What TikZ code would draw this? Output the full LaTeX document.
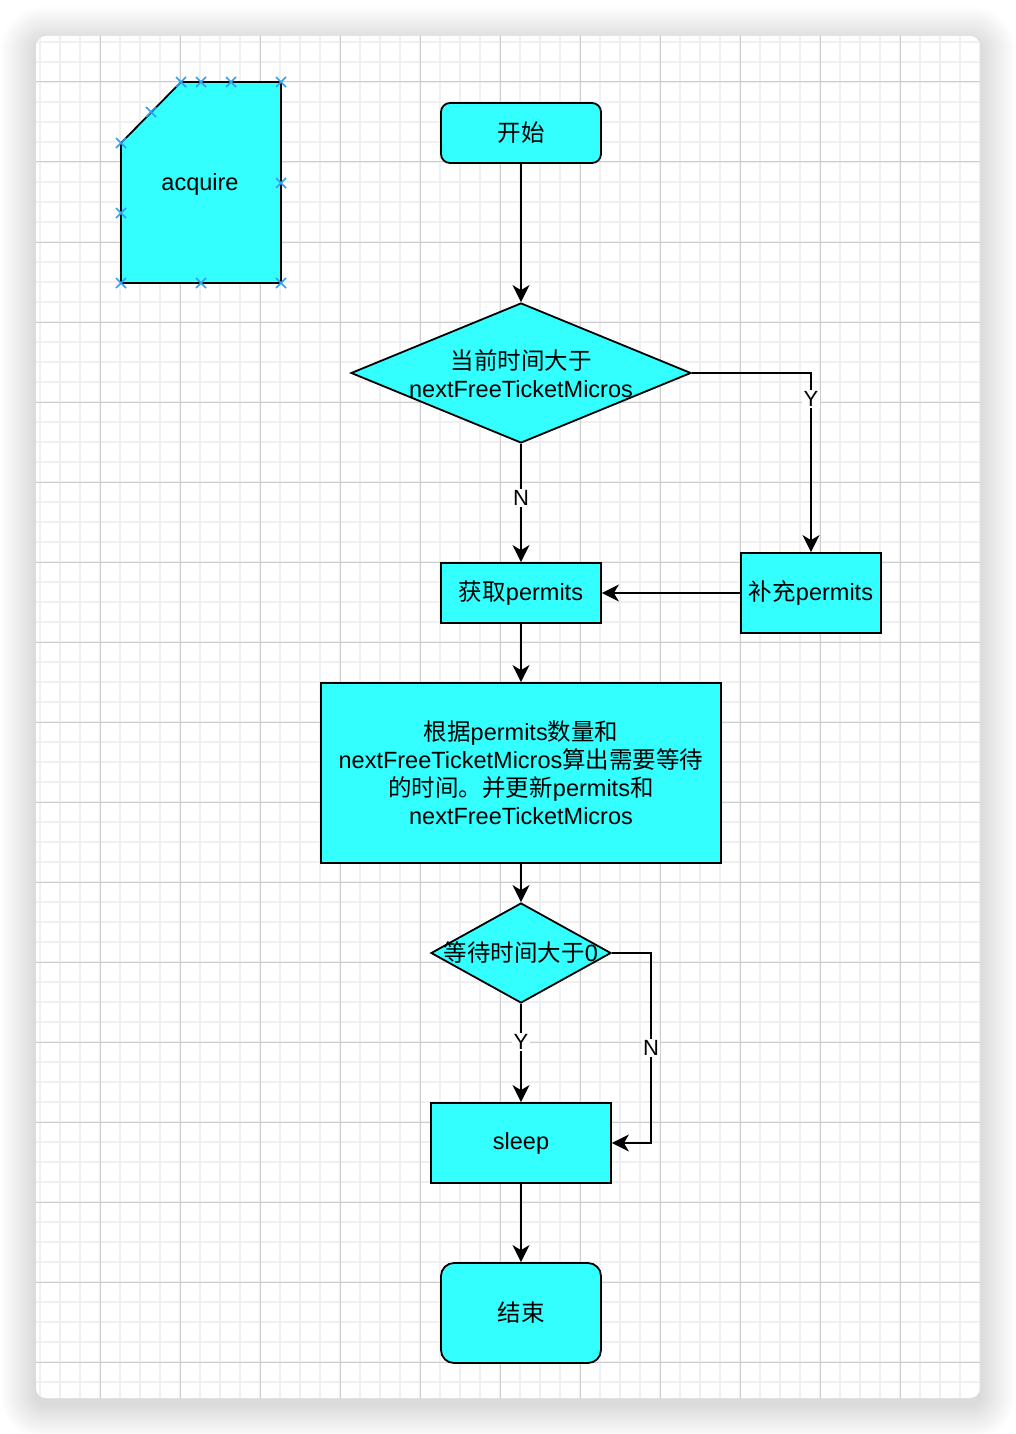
\documentclass[tikz,border=0pt]{standalone}
\usepackage{fontspec}
\setmainfont{Liberation Sans}
\newfontfamily\cjk{Noto Sans CJK SC}
\usetikzlibrary{arrows.meta,shapes.geometric}

\definecolor{cyanfill}{RGB}{51,255,255}
\definecolor{minorgrid}{RGB}{240,240,240}
\definecolor{majorgrid}{RGB}{205,205,205}
\definecolor{markblue}{RGB}{48,160,240}

\newcommand{\mainsize}{\fontsize{23.5}{28}\selectfont}
\newcommand{\lblsize}{\fontsize{22}{24}\selectfont}

\begin{document}
\begin{tikzpicture}[x=1pt,y=-1pt,
  shape outline/.style={draw=black, line width=1.8pt, fill=cyanfill},
  box/.style={shape outline, rectangle, inner sep=0pt, font=\mainsize, align=center},
  terminal/.style={box, rounded corners=9pt},
  decision/.style={shape outline, diamond, inner sep=0pt},
  txt/.style={font=\mainsize, align=center, inner sep=0pt},
  conn/.style={line width=1.8pt, -{Stealth[length=17pt,width=17pt,inset=5pt]}},
  lbl/.style={fill=white, inner sep=1.5pt, font=\lblsize},
  xmark/.style={draw=markblue, line width=1.5pt}
]
\useasboundingbox (0,0) rectangle (1016,1434);

% soft drop shadow of the sheet
\foreach \i in {1,...,36}{
  \fill[black, opacity=0.0048, rounded corners={10pt+\i pt}]
    ({36-\i},{42-\i}) rectangle ({980+\i},{1404+\i});
}

% sheet with grid
\fill[white, rounded corners=10pt] (36,36) rectangle (980,1398);
\begin{scope}
  \clip[rounded corners=10pt] (36,36) rectangle (980,1398);
  \foreach \x in {40,60,...,980}
    \draw[minorgrid, line width=1.8pt] (\x,36) -- (\x,1398);
  \foreach \y in {42,62,...,1398}
    \draw[minorgrid, line width=1.8pt] (36,\y) -- (980,\y);
  \foreach \x in {20,100,...,980}
    \draw[majorgrid, line width=1pt] (\x,36) -- (\x,1398);
  \foreach \y in {2,82,...,1398}
    \draw[majorgrid, line width=1pt] (36,\y) -- (980,\y);
\end{scope}

% acquire card shape with its connection markers
\draw[shape outline, line join=miter] (181,82) -- (281,82) -- (281,283) -- (121,283) -- (121,143) -- cycle;
\node[txt] (acq) at (200,184) {acquire};
\foreach \p in {(181,82),(201,82),(231,82),(281,82),(151,112),(121,143),
                (281,183),(121,213),(121,283),(201,283),(281,283)}{
  \draw[xmark] \p +(-5,-5) -- +(5,5) \p +(-5,5) -- +(5,-5);
}

% flow nodes
\node[terminal, minimum width=160pt, minimum height=60pt] (start) at (521,133) {{\cjk 开始}};
\node[decision, minimum width=340pt, minimum height=140pt] (d1) at (521,373) {};
\node[txt] (d1t) at (521,374) {{\cjk 当前时间大于}\\nextFreeTicketMicros};
\node[box, minimum width=160pt, minimum height=60pt] (get) at (521,593) {{\cjk 获取}permits};
\node[box, minimum width=140pt, minimum height=80pt] (add) at (811,593) {{\cjk 补充}permits};
\node[box, minimum width=400pt, minimum height=180pt] (calc) at (521,773)
  {{\cjk 根据}permits{\cjk 数量和}\\nextFreeTicketMicros{\cjk 算出需要等待}\\{\cjk 的时间。并更新}permits{\cjk 和}\\nextFreeTicketMicros};
\node[decision, minimum width=180pt, minimum height=100pt] (d2) at (521,953) {};
\node[txt] (d2t) at (521,953) {{\cjk 等待时间大于}0};
\node[box, minimum width=180pt, minimum height=80pt] (sleep) at (521,1143) {sleep};
\node[terminal, rounded corners=13pt, minimum width=160pt, minimum height=100pt] (stop) at (521,1313) {{\cjk 结束}};

\coordinate (nbend) at (651,953);

% connectors
\draw[conn] (start) -- (d1);
\draw[conn] (d1.east) -| node[lbl, pos=0.572] {Y} (add.north);
\draw[conn] (d1.south) -- node[lbl, pos=0.46] {N} (get.north);
\draw[conn] (add.west) -- (get.east);
\draw[conn] (get) -- (calc);
\draw[conn] (calc) -- (d2);
\draw[conn] (d2.south) -- node[lbl, pos=0.39] {Y} (sleep.north);
\draw[conn] (d2.east) -- (nbend) |- node[lbl, pos=0.25] {N} (sleep.east);
\draw[conn] (sleep) -- (stop);
\end{tikzpicture}
\end{document}
